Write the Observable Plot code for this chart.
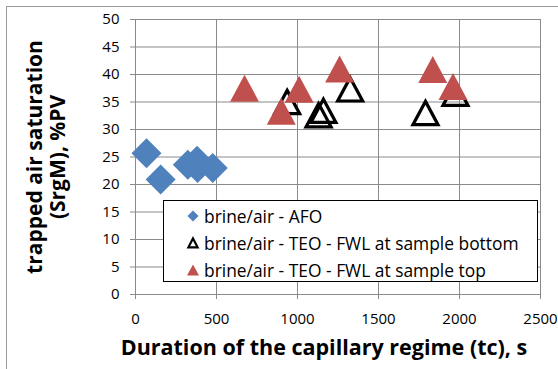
<!DOCTYPE html>
<html>
<head>
<meta charset="utf-8">
<script src="https://cdn.jsdelivr.net/npm/d3@7"></script>
<script src="https://cdn.jsdelivr.net/npm/@observablehq/plot@0.6"></script>
<style>
  html, body { margin: 0; padding: 0; background: #fff; }
  #chart { position: relative; width: 558px; height: 369px; overflow: hidden; }
  #chart svg { display: block; }
  .legend {
    position: absolute; left: 163px; top: 200px; width: 375px; height: 82px;
    box-sizing: border-box; border: 1px solid #000; background: #fff;
    padding-top: 1px; font-family: "Open Sans", sans-serif; font-size: 17.4px; color: #000;
  }
  .legend .row { display: flex; align-items: center; height: 27px; }
  .legend svg { margin-left: 22px; margin-right: 4px; flex: none; }
</style>
</head>
<body>
<div id="chart"></div>
<script>
// Duration of the capillary regime (s) and trapped air saturation (%PV)
const afoX = [68, 155, 323, 380, 383, 477];
const afoY = [25.7, 20.9, 23.6, 24.3, 23.0, 23.0];

const bottomX = [936, 1130, 1160, 1325, 1790, 1975];
const bottomY = [35.0, 32.6, 33.4, 37.3, 33.0, 36.5];

const topX = [673, 900, 1010, 1260, 1835, 1960];
const topY = [37.5, 33.3, 37.3, 41.0, 40.9, 37.8];

const seriesNames = [
  "brine/air - AFO",
  "brine/air - TEO - FWL at sample bottom",
  "brine/air - TEO - FWL at sample top"
];
const xTicks = [0, 500, 1000, 1500, 2000, 2500];
const yTicks = [0, 5, 10, 15, 20, 25, 30, 35, 40, 45, 50];
const xTitle = "Duration of the capillary regime (tc), s";
const yTitle = "trapped air saturation\n(SrgM), %PV";

const blue = "#4F81BD";
const red = "#C0504D";
const gridColor = "#8a8a8a";

const toRows = (xs, ys) => xs.map((x, i) => ({x, y: ys[i]}));
const afo = toRows(afoX, afoY);
const bottom = toRows(bottomX, bottomY);
const top_ = toRows(topX, topY);

// Square diamond and bounding-box-centred triangle markers
const diamond = {
  draw(ctx, size) {
    const r = Math.sqrt(size / Math.PI);
    ctx.moveTo(0, -r); ctx.lineTo(r, 0); ctx.lineTo(0, r); ctx.lineTo(-r, 0); ctx.closePath();
  }
};
const triangle = {
  draw(ctx, size) {
    const r = Math.sqrt(size / Math.PI);
    const h = r * 0.93;
    ctx.moveTo(0, -h); ctx.lineTo(r, h); ctx.lineTo(-r, h); ctx.closePath();
  }
};

const plot = Plot.plot({
  width: 558,
  height: 369,
  marginLeft: 135,
  marginRight: 18,
  marginTop: 19,
  marginBottom: 75,
  style: {fontFamily: "'Open Sans', sans-serif", color: "#000", background: "#fff", overflow: "visible"},
  x: {domain: [0, 2500]},
  y: {domain: [0, 50]},
  marks: [
    Plot.gridX(xTicks.slice(1), {stroke: gridColor, strokeOpacity: 1}),
    Plot.gridY(yTicks.slice(1), {stroke: gridColor, strokeOpacity: 1}),
    Plot.ruleX([0], {stroke: gridColor}),
    Plot.ruleY([0], {stroke: gridColor}),
    Plot.axisX(xTicks, {tickSize: 5, tickPadding: 14, fontSize: 15, stroke: gridColor, label: null, tickFormat: d => String(d)}),
    Plot.axisY(yTicks, {tickSize: 5, tickPadding: 11, fontSize: 15, stroke: gridColor, label: null, tickFormat: d => String(d)}),
    Plot.dot(afo, {x: "x", y: "y", symbol: diamond, r: 15, fill: blue, stroke: "none"}),
    Plot.dot(bottom, {x: "x", y: "y", symbol: triangle, r: 12.5, fill: "none", stroke: "#000", strokeWidth: 3.2, strokeLinejoin: "miter"}),
    Plot.dot(top_, {x: "x", y: "y", symbol: triangle, r: 14.5, fill: red, stroke: "none"}),
    Plot.text([xTitle], {frameAnchor: "bottom", dx: -14, dy: 60, fontSize: 21.5, fontWeight: "bold"}),
    Plot.text([yTitle], {frameAnchor: "left", textAnchor: "middle", dx: -89, rotate: -90, fontSize: 21, fontWeight: "bold", lineHeight: 1.1})
  ]
});

const chart = document.getElementById("chart");
chart.appendChild(plot);

// Chart-area border (top and left edges visible)
const svg = d3.select(plot);
svg.insert("rect", ":first-child")
  .attr("x", 6.5).attr("y", 6.5).attr("width", 600).attr("height", 400)
  .attr("fill", "none").attr("stroke", "#9a9a9a");

// Legend
const legend = d3.select(chart).append("div").attr("class", "legend");
const markers = [
  {path: "M0,-5.5L5.5,0L0,5.5L-5.5,0Z", fill: blue, stroke: "none", sw: 0},
  {path: "M0,-4.6L4.6,4.3L-4.6,4.3Z", fill: "none", stroke: "#000", sw: 2.2},
  {path: "M0,-5.6L6,5.6L-6,5.6Z", fill: red, stroke: "none", sw: 0}
];
seriesNames.forEach((name, i) => {
  const row = legend.append("div").attr("class", "row");
  const m = markers[i];
  row.append("svg").attr("width", 14).attr("height", 14).attr("viewBox", "-7 -7 14 14")
    .append("path").attr("d", m.path).attr("fill", m.fill).attr("stroke", m.stroke)
    .attr("stroke-width", m.sw).attr("stroke-linejoin", "miter");
  row.append("span").text(name);
});
</script>
</body>
</html>
